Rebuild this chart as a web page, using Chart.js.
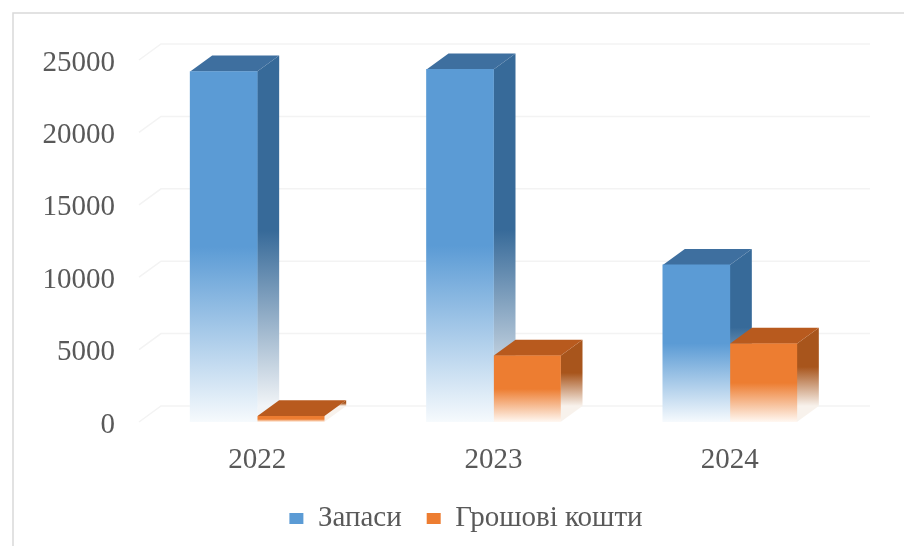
<!DOCTYPE html>
<html>
<head>
<meta charset="utf-8">
<script src="https://cdn.jsdelivr.net/npm/chart.js@4"></script>
<style>
    html, body { margin: 0; padding: 0; background: #fff; }
    #wrap { width: 904px; height: 546px; }
</style>
</head>
<body>
<div id="wrap"><canvas id="grafico"></canvas></div>
<script>
// Datos
const anios = ['2022', '2023', '2024'];
const zapasy = [24200, 24350, 10850];
const koshty = [400, 4570, 5400];
const marcasY = [0, 5000, 10000, 15000, 20000, 25000];

// Desplazamiento de la profundidad 3D
const fondoX = 22;
const fondoY = 16;

// Degradado vertical: color solido hasta la mitad y luego hacia blanco
function degradado(ctx, arriba, abajo, color, claro) {
    const g = ctx.createLinearGradient(0, arriba, 0, abajo);
    g.addColorStop(0, color);
    g.addColorStop(0.5, color);
    g.addColorStop(1, claro);
    return g;
}

function frente(color, claro) {
    return function (context) {
        const chart = context.chart;
        if (!chart.chartArea || context.type !== 'data') return color;
        const y = chart.scales.y;
        return degradado(chart.ctx, y.getPixelForValue(context.raw), y.getPixelForValue(0), color, claro);
    };
}

// Pared del fondo y caras 3D, siempre por debajo de los frentes
const fondo3d = {
    id: 'fondo3d',
    beforeDatasetsDraw(chart) {
        const { ctx, chartArea, scales } = chart;
        ctx.save();
        ctx.strokeStyle = '#f3f3f3';
        ctx.lineWidth = 1.5;
        marcasY.forEach(v => {
            const y = scales.y.getPixelForValue(v);
            ctx.beginPath();
            ctx.moveTo(chartArea.left, y);
            ctx.lineTo(chartArea.left + fondoX, y - fondoY);
            ctx.lineTo(chartArea.right + fondoX, y - fondoY);
            ctx.stroke();
        });
        ctx.restore();

        const base = scales.y.getPixelForValue(0);
        chart.data.datasets.forEach((ds, i) => {
            chart.getDatasetMeta(i).data.forEach(bar => {
                const der = bar.x + bar.width / 2;
                const izq = bar.x - bar.width / 2;
                ctx.save();
                ctx.fillStyle = degradado(ctx, bar.y - fondoY, base - fondoY, ds.colorLado, ds.colorFin);
                ctx.beginPath();
                ctx.moveTo(der, bar.y);
                ctx.lineTo(der + fondoX, bar.y - fondoY);
                ctx.lineTo(der + fondoX, base - fondoY);
                ctx.lineTo(der, base);
                ctx.closePath();
                ctx.fill();
                ctx.fillStyle = ds.colorTapa;
                ctx.beginPath();
                ctx.moveTo(izq, bar.y);
                ctx.lineTo(izq + fondoX, bar.y - fondoY);
                ctx.lineTo(der + fondoX, bar.y - fondoY);
                ctx.lineTo(der, bar.y);
                ctx.closePath();
                ctx.fill();
                ctx.restore();
            });
        });
    }
};

// Marco exterior (solo arriba e izquierda) y ajuste de la leyenda
const marco = {
    id: 'marco',
    beforeDraw(chart) {
        const { ctx } = chart;
        ctx.save();
        ctx.strokeStyle = '#d9d9d9';
        ctx.lineWidth = 1.5;
        ctx.beginPath();
        ctx.moveTo(13, 546);
        ctx.lineTo(13, 13);
        ctx.lineTo(904, 13);
        ctx.stroke();
        ctx.restore();
    },
    afterLayout(chart) {
        chart.legend.left += 42;
        chart.legend.right += 42;
        chart.legend.top -= 3;
        chart.legend.bottom -= 3;
    }
};

new Chart(document.getElementById('grafico'), {
    type: 'bar',
    data: {
        labels: anios,
        datasets: [
            {
                label: 'Запаси',
                data: zapasy,
                backgroundColor: frente('#5B9BD5', '#F6FAFD'),
                colorFrente: '#5B9BD5',
                colorLado: '#376A99',
                colorTapa: '#3E6F9F',
                colorFin: '#F1F4F7'
            },
            {
                label: 'Грошові кошти',
                data: koshty,
                backgroundColor: frente('#ED7D31', '#FFF8F2'),
                colorFrente: '#ED7D31',
                colorLado: '#A8551C',
                colorTapa: '#B85A1E',
                colorFin: '#F8F2EC'
            }
        ]
    },
    plugins: [marco, fondo3d],
    options: {
        responsive: true,
        maintainAspectRatio: false,
        animation: false,
        layout: { padding: { top: 60, right: 56, left: 0, bottom: 0 } },
        datasets: { bar: { barThickness: 67 } },
        plugins: {
            legend: {
                position: 'bottom',
                labels: {
                    boxWidth: 14,
                    boxHeight: 11,
                    padding: 25,
                    color: '#595959',
                    font: { family: '"Liberation Serif"', size: 29 },
                    generateLabels(chart) {
                        const items = Chart.defaults.plugins.legend.labels.generateLabels(chart);
                        items.forEach(item => {
                            item.fillStyle = chart.data.datasets[item.datasetIndex].colorFrente;
                            item.lineWidth = 0;
                        });
                        return items;
                    }
                }
            },
            tooltip: { enabled: false }
        },
        scales: {
            x: {
                grid: { display: false },
                border: { display: false },
                afterFit(scale) { scale.height = 60; },
                ticks: {
                    padding: 13,
                    color: '#595959',
                    font: { family: '"Liberation Serif"', size: 29 }
                }
            },
            y: {
                min: 0,
                max: 25000,
                grid: { display: false },
                border: { display: false },
                afterFit(scale) { scale.width = 139; },
                afterBuildTicks(scale) { scale.ticks = marcasY.map(v => ({ value: v })); },
                ticks: {
                    padding: 16,
                    labelOffset: 3,
                    color: '#595959',
                    font: { family: '"Liberation Serif"', size: 29 },
                    callback: value => String(value)
                }
            }
        }
    }
});
</script>
</body>
</html>
